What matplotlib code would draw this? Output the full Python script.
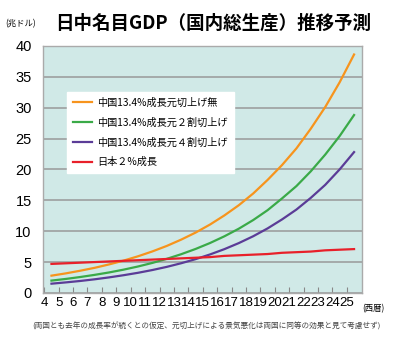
import numpy as np
import matplotlib.pyplot as plt

# 年 (西暦 2000年代の下2桁)
years = [4.5, 5.5, 6.5, 7.5, 8.5, 9.5, 10.5, 11.5, 12.5, 13.5, 14.5,
         15.5, 16.5, 17.5, 18.5, 19.5, 20.5, 21.5, 22.5, 23.5, 24.5, 25.5]
# 単位：兆ドル
china_no_reval = [2.8, 3.17, 3.6, 4.07, 4.62, 5.23, 5.93, 6.72, 7.61, 8.63, 9.77,
                  11.07, 12.55, 14.2, 16.1, 18.3, 20.7, 23.4, 26.6, 30.1, 34.1, 38.6]
china_reval20 = [2.0, 2.27, 2.58, 2.93, 3.32, 3.77, 4.28, 4.86, 5.52, 6.27, 7.12,
                 8.08, 9.17, 10.4, 11.8, 13.4, 15.3, 17.3, 19.7, 22.4, 25.4, 28.8]
china_reval40 = [1.5, 1.71, 1.94, 2.21, 2.52, 2.87, 3.26, 3.71, 4.22, 4.81, 5.47,
                 6.23, 7.09, 8.07, 9.18, 10.45, 11.9, 13.5, 15.4, 17.5, 20.0, 22.8]
japan = [4.7, 4.8, 4.9, 5.0, 5.1, 5.2, 5.3, 5.4, 5.5, 5.6, 5.7,
         5.8, 6.0, 6.1, 6.2, 6.3, 6.5, 6.6, 6.7, 6.9, 7.0, 7.1]
labels = ["中国13.4%成長元切上げ無", "中国13.4%成長元２割切上げ",
          "中国13.4%成長元４割切上げ", "日本２%成長"]
colors = ["#f7941d", "#3aaa48", "#5b3c97", "#e8202a"]
xticks = list(range(4, 26))
yticks = list(range(0, 41, 5))

jp = ['Noto Sans CJK JP', 'DejaVu Sans']
num = ['Liberation Sans', 'DejaVu Sans']
plt.rcParams['font.family'] = jp

fig = plt.figure(figsize=(4.04, 3.5), dpi=100)
ax = fig.add_axes([0.106, 0.163, 0.79, 0.706])
ax.set_facecolor("#d0e9e7")

for vals, lab, c in zip([china_no_reval, china_reval20, china_reval40, japan], labels, colors):
    ax.plot(years, vals, color=c, lw=1.6, label=lab, zorder=3)

ax.set_xlim(3.9, 26.05)
ax.set_ylim(0, 40)
ax.set_xticks(xticks)
ax.set_yticks(yticks)
ax.set_xticklabels([str(t) for t in xticks], family=num, fontsize=9.5)
ax.set_yticklabels([str(t) for t in yticks], family=num, fontsize=10.5)
ax.tick_params(axis='y', length=0, pad=8)
ax.tick_params(axis='x', direction='in', length=4, color='#888888', pad=3)
ax.grid(axis='y', color='#999999', lw=1.1)
ax.set_axisbelow(True)
for s in ax.spines.values():
    s.set_color('#aaaaaa')
    s.set_linewidth(1.0)

leg = ax.legend(loc='upper left', bbox_to_anchor=(0.075, 0.815), fontsize=7.3,
                frameon=True, fancybox=False, edgecolor='white', framealpha=1,
                handlelength=1.9, handletextpad=0.5, labelspacing=0.95,
                borderpad=0.6, borderaxespad=0)

fig.text(0.136, 0.935, "日中名目GDP（国内総生産）推移予測", fontsize=13.3,
         fontweight='bold', va='center', ha='left')
fig.text(0.012, 0.932, "(兆ドル)", fontsize=6, va='center', ha='left')
fig.text(0.897, 0.117, "(西暦)", fontsize=6, va='center', ha='left')
fig.text(0.51, 0.068, "(両国とも去年の成長率が続くとの仮定、元切上げによる景気悪化は両国に同等の効果と見て考慮せず)",
         fontsize=5.5, color='#444444', va='center', ha='center')

fig.savefig("out.png", dpi=100)
